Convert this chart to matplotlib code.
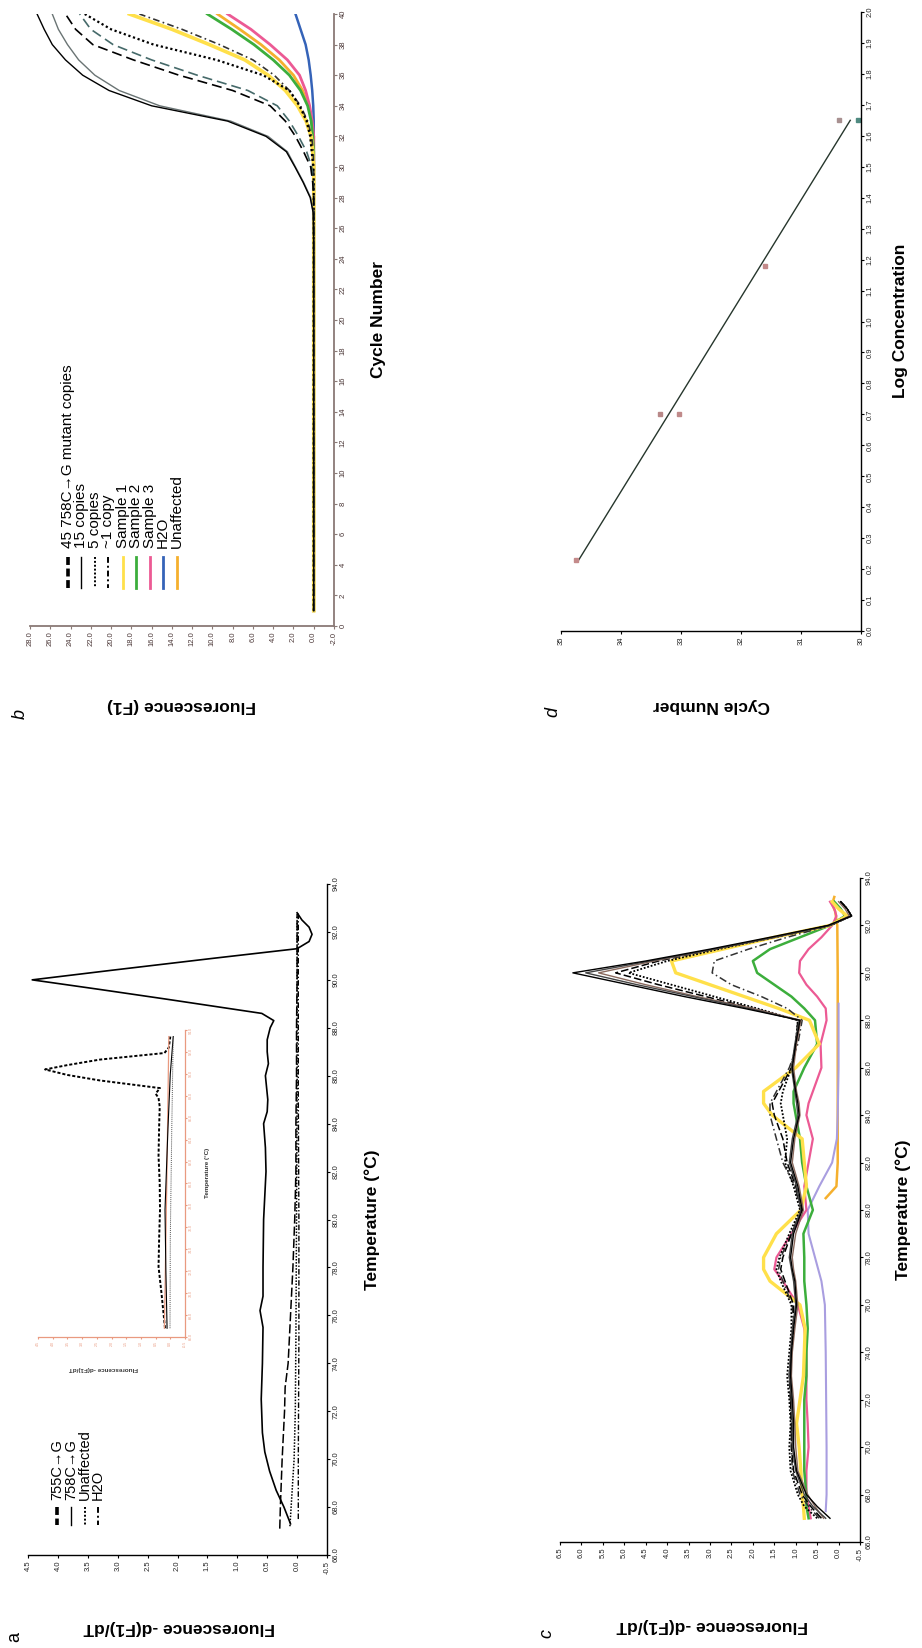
"""
Four-panel melting-curve / amplification figure, laid out rotated 90 degrees
(page in portrait, every text reading bottom-to-top).
"""

import numpy as np
import matplotlib
matplotlib.use("Agg")
import matplotlib.pyplot as plt
from matplotlib.lines import Line2D

plt.rcParams["font.family"] = ["Liberation Sans", "DejaVu Sans"]

# ── data: panel a (melting curves, -dF/dT vs temperature) ─────────────────────
a_t_758 = [67.3, 68.0, 68.7, 69.5, 70.3, 71.1, 72.5, 74.0, 75.5, 76.2,
           76.8, 78.0, 80.0, 82.0, 83.0, 84.0, 84.5, 85.0, 86.0, 86.5,
           87.0, 87.5, 88.0, 88.3, 88.6, 89.2, 89.6, 90.0, 90.4, 90.9,
           91.3, 91.6, 91.9, 92.2, 92.5, 92.8]
a_f_758 = [0.11, 0.22, 0.35, 0.46, 0.54, 0.58, 0.60, 0.58, 0.57, 0.62,
           0.57, 0.57, 0.56, 0.52, 0.53, 0.56, 0.50, 0.49, 0.53, 0.48,
           0.50, 0.50, 0.45, 0.39, 0.59, 2.20, 3.30, 4.43, 3.10, 1.40,
           0.00, -0.20, -0.25, -0.20, -0.08, 0.00]
a_t_755 = [67.1, 68, 70, 72, 73, 74, 76, 78, 80, 82, 84, 86, 88, 90, 92, 92.7]
a_f_755 = [0.29, 0.28, 0.25, 0.21, 0.20, 0.15, 0.11, 0.07, 0.04, 0.02,
           0.02, 0.01, 0.01, 0.00, 0.00, 0.00]
a_t_unaff = [67.2, 68, 70, 72, 75, 80, 85, 90, 92.8]
a_f_unaff = [0.12, 0.10, 0.05, 0.03, 0.02, 0.01, 0.00, 0.00, 0.00]
a_t_h2o = [67.5, 70, 75, 80, 85, 90, 92.8]
a_f_h2o = [-0.02, -0.02, -0.03, -0.03, -0.02, -0.02, -0.02]

# inset of panel a
in_t_755 = [66.8, 70.0, 72.4, 75.0, 77.6, 80.0, 82.5, 85.2, 87.0, 87.8,
            88.2, 88.7, 89.4, 89.9, 90.4, 90.8, 91.3, 91.6, 91.9, 92.4, 93.4]
in_f_755 = [0.18, 0.30, 0.40, 0.38, 0.35, 0.36, 0.40, 0.38, 0.36, 0.40,
            0.50, 0.35, 2.40, 3.50, 4.26, 3.50, 2.40, 1.30, 0.20, 0.05, 0.00]
in_t_758 = [66.8, 72, 77.6, 85, 90, 93.4]
in_f_758 = [0.11, 0.15, 0.18, 0.08, 0.00, -0.10]
in_t_red = [66.8, 80, 93.4]
in_f_red = [0.20, 0.12, 0.05]
in_t_unaff = [66.8, 75, 85, 93.4]
in_f_unaff = [0.01, 0.00, -0.05, -0.10]

# ── data: panel b (amplification, fluorescence vs cycle) ───────────────────────
b_cycles = [1, 5, 10, 15, 20, 25, 27, 28, 29, 30, 31, 32, 33, 34, 35, 36, 37, 38, 39, 40]
b_45a = [0, 0, 0, 0, 0, 0, 0.05, 0.35, 1.05, 1.85, 2.7, 4.7, 8.5, 16.0, 20.2, 22.8, 24.5, 25.8, 26.6, 27.3]
b_45b = [0, 0, 0, 0, 0, 0, 0.05, 0.30, 1.00, 1.80, 2.6, 4.5, 8.2, 15.2, 19.2, 21.6, 23.2, 24.3, 25.2, 25.8]
b_15a = [0, 0, 0, 0, 0, 0, 0, 0, 0.10, 0.30, 1.0, 1.8, 2.8, 4.3, 8.0, 13.3, 17.8, 21.8, 23.5, 24.5]
b_15b = [0, 0, 0, 0, 0, 0, 0, 0, 0.05, 0.20, 0.7, 1.5, 2.4, 3.6, 6.5, 11.5, 16.0, 19.8, 22.0, 23.1]
b_5 = [0, 0, 0, 0, 0, 0, 0, 0, 0, 0.05, 0.2, 0.35, 0.7, 1.4, 2.4, 5.0, 9.6, 15.8, 20.0, 22.6]
b_1 = [0, 0, 0, 0, 0, 0, 0, 0, 0, 0, 0.05, 0.2, 0.6, 1.3, 2.4, 3.9, 6.0, 9.3, 13.0, 17.2]
b_s1 = [0, 0, 0, 0, 0, 0, 0, 0, 0, 0, 0.1, 0.25, 0.75, 1.6, 2.8, 4.5, 6.8, 10.3, 14.0, 18.2]
b_s2 = [0, 0, 0, 0, 0, 0, 0, 0, 0, 0, 0, 0.1, 0.25, 0.6, 1.3, 2.4, 4.0, 5.9, 8.1, 10.5]
b_s3 = [0, 0, 0, 0, 0, 0, 0, 0, 0, 0, 0, 0, 0.15, 0.4, 0.8, 1.4, 2.6, 4.3, 6.2, 8.5]
b_h2o = [0, 0, 0, 0, 0, 0, 0, 0, 0, 0, 0, 0, 0, 0.05, 0.15, 0.3, 0.5, 0.8, 1.3, 1.8]
b_unaff = [0, 0, 0, 0, 0, 0, 0, 0, 0, 0, 0, 0, 0.2, 0.5, 1.1, 2.0, 3.4, 5.2, 7.3, 9.5]

# ── data: panel c (melting curves of standards and samples) ───────────────────
c_temp = [67.0, 67.5, 68.0, 69.0, 70.0, 71.0, 72.0, 73.0, 74.0, 75.0,
          76.0, 77.0, 77.5, 78.0, 79.0, 80.0, 81.0, 82.0, 83.0, 84.0,
          84.5, 85.0, 86.0, 87.0, 88.0, 88.5, 89.0, 89.5, 90.0, 90.5,
          91.0, 91.5, 92.0, 92.4, 92.7, 93.0]
c_k1 = [0.20, 0.50, 0.75, 0.98, 1.05, 1.05, 1.08, 1.12, 1.10, 1.05,
        0.98, 1.02, 1.08, 1.12, 1.05, 0.85, 0.95, 1.12, 1.05, 0.92,
        0.95, 1.00, 1.08, 1.00, 0.90, 2.20, 3.60, 4.90, 6.20, 4.50,
        3.00, 1.60, 0.25, -0.30, -0.20, -0.05]
c_k2 = [0.30, 0.60, 0.80, 1.00, 1.08, 1.08, 1.10, 1.15, 1.12, 1.08,
        1.00, 1.05, 1.10, 1.15, 1.08, 0.88, 0.98, 1.15, 1.08, 0.95,
        0.98, 1.02, 1.10, 1.02, 0.92, 2.10, 3.40, 4.70, 5.90, 4.40,
        2.90, 1.50, 0.20, -0.30, -0.20, -0.05]
c_k3 = [0.35, 0.55, 0.72, 0.95, 1.00, 1.02, 1.05, 1.10, 1.08, 1.02,
        0.95, 1.00, 1.05, 1.08, 1.00, 0.82, 0.92, 1.08, 1.02, 0.90,
        0.92, 0.98, 1.05, 0.98, 0.88, 2.00, 3.30, 4.50, 5.60, 4.30,
        2.90, 1.50, 0.20, -0.25, -0.15, 0.00]
c_k4 = [0.40, 0.65, 0.85, 1.05, 1.10, 1.10, 1.12, 1.15, 1.10, 1.05,
        1.05, 1.25, 1.35, 1.30, 1.10, 0.85, 1.00, 1.20, 1.30, 1.50,
        1.55, 1.40, 1.10, 1.00, 0.95, 2.00, 3.10, 4.20, 5.20, 4.20,
        2.90, 1.50, 0.20, -0.30, -0.20, -0.05]
c_k5 = [0.50, 0.80, 0.95, 1.12, 1.15, 1.12, 1.15, 1.20, 1.15, 1.10,
        1.10, 1.35, 1.45, 1.38, 1.15, 0.90, 1.05, 1.25, 1.20, 1.30,
        1.35, 1.30, 1.10, 1.00, 0.95, 1.90, 2.90, 3.90, 4.90, 4.00,
        2.80, 1.50, 0.20, -0.30, -0.20, -0.05]
c_k6 = [0.45, 0.70, 0.90, 1.08, 1.10, 1.10, 1.12, 1.15, 1.10, 1.05,
        1.08, 1.30, 1.40, 1.35, 1.10, 0.88, 1.02, 1.30, 1.45, 1.60,
        1.60, 1.45, 1.15, 0.95, 0.85, 1.20, 1.80, 2.50, 2.95, 2.90,
        2.10, 1.20, 0.20, -0.30, -0.20, -0.05]
c_s1 = [0.80, 0.82, 0.85, 0.88, 0.92, 0.98, 0.90, 0.82, 0.80, 0.78,
        0.90, 1.60, 1.75, 1.75, 1.45, 0.88, 0.75, 0.80, 0.85, 1.55,
        1.75, 1.75, 1.00, 0.45, 0.68, 1.40, 2.20, 3.00, 3.80, 3.90,
        2.70, 1.50, 0.20, -0.20, 0.00, 0.15]
c_s2 = [0.70, 0.75, 0.75, 0.80, 0.80, 0.80, 0.80, 0.75, 0.75, 0.72,
        0.75, 0.80, 0.80, 0.80, 0.82, 0.60, 0.75, 0.85, 0.90, 1.00,
        1.05, 1.05, 0.80, 0.50, 0.55, 0.80, 1.10, 1.50, 1.90, 2.00,
        1.60, 0.90, 0.20, -0.15, -0.05, 0.10]
c_s3 = [0.65, 0.70, 0.75, 0.75, 0.70, 0.72, 0.75, 0.75, 0.75, 0.80,
        0.95, 1.30, 1.50, 1.45, 1.10, 0.75, 0.80, 0.70, 0.60, 0.75,
        0.70, 0.60, 0.40, 0.42, 0.28, 0.30, 0.50, 0.75, 0.92, 0.90,
        0.70, 0.40, 0.15, 0.05, 0.10, 0.20]
c_t_h2o = [67.3, 68, 70, 72, 74, 76, 77, 78, 79, 80, 81, 82, 83, 84, 86, 88, 88.7]
c_f_h2o = [0.30, 0.28, 0.28, 0.29, 0.30, 0.32, 0.40, 0.55, 0.70, 0.72,
           0.45, 0.15, 0.04, 0.02, 0.00, 0.00, 0.00]
c_t_unaff = [80.5, 81, 82, 84, 86, 88, 90, 92, 92.6, 92.9, 93.2]
c_f_unaff = [0.30, 0.05, 0.02, 0.02, 0.02, 0.02, 0.02, 0.03, 0.08, 0.15, 0.10]

# ── data: panel d (standard curve) ────────────────────────────────────────────
d_logconc = [0.23, 0.70, 0.70, 1.18, 1.65, 1.65]
d_cycle = [34.75, 33.35, 33.03, 31.60, 30.37, 30.05]

# ── tick values ───────────────────────────────────────────────────────────────
temp_ticks = np.arange(66, 94.1, 2)
a_fl_ticks = np.arange(-0.5, 4.51, 0.5)
c_fl_ticks = np.arange(-0.5, 6.51, 0.5)
b_fl_ticks = np.arange(-2, 28.1, 2)
b_cyc_ticks = np.arange(0, 41, 2)
d_log_ticks = np.arange(0, 2.01, 0.1)
d_cyc_ticks = np.arange(30, 35.1, 1)

# ── style ─────────────────────────────────────────────────────────────────────
C_YEL = "#ffe04a"
C_GRN = "#3cae3c"
C_PNK = "#ec5a94"
C_BLU = "#3563b8"
C_ORG = "#f5b02e"
C_LAV = "#a99ee0"
C_INSET = "#e99a80"

W, H = 922, 1648
fig = plt.figure(figsize=(W / 100, H / 100), dpi=100)
fig.patch.set_facecolor("white")


def rect(left, top, right, bottom):
    return [left / W, 1 - bottom / H, (right - left) / W, (bottom - top) / H]


def panel(box, vlim, tlim, vticks, tticks, vfmt, tfmt,
          color="black", lw=1.0, fs=5.5, tcolor="#222222", tick_len=2.5):
    # horizontal = measured value (decreasing to the right), vertical = x of original
    ax = fig.add_axes(rect(*box))
    ax.set_xlim(*vlim)
    ax.set_ylim(*tlim)
    ax.patch.set_alpha(0)
    for s in ("top", "left"):
        ax.spines[s].set_visible(False)
    for s in ("bottom", "right"):
        ax.spines[s].set_color(color)
        ax.spines[s].set_linewidth(lw)
    ax.yaxis.tick_right()
    ax.set_xticks(vticks)
    ax.set_xticklabels([vfmt.format(v) for v in vticks], rotation=90)
    ax.set_yticks(tticks)
    ax.set_yticklabels([tfmt.format(v) for v in tticks], rotation=90, va="center")
    ax.tick_params(direction="out", length=tick_len, width=0.8, color=color,
                   labelsize=fs, labelcolor=tcolor, pad=1.5)
    return ax


def label(x, y, s, rot, size=12.5, weight="bold", style="normal", color="black"):
    fig.text(x / W, 1 - y / H, s, rotation=rot, ha="center", va="center",
             fontsize=size, fontweight=weight, fontstyle=style, color=color)


def legend(xs, y0, y1, ty, labels, styles, fs=10):
    for x, lab, kw in zip(xs, labels, styles):
        fig.add_artist(Line2D([x / W, x / W], [1 - y0 / H, 1 - y1 / H],
                              transform=fig.transFigure, **kw))
        fig.text(x / W, 1 - ty / H, lab, rotation=90, ha="center", va="bottom",
                 fontsize=fs)


DASH_THICK = dict(color="black", lw=2.6, ls=(0, (2.2, 1.0)))
SOLID = dict(color="black", lw=1.0, ls="-")
DOTTED = dict(color="black", lw=1.4, ls=(0, (1, 1)))
DASHDOT = dict(color="black", lw=1.4, ls=(0, (3, 1.5, 1, 1.5)))

# ── panel a ──────────────────────────────────────────────────────────────────
ax_a = panel((28, 884, 327, 1555), (4.5, -0.5), (66, 94),
             a_fl_ticks, temp_ticks, "{:.1f}", "{:.1f}")
ax_a.plot(a_f_758, a_t_758, color="black", lw=1.2)
ax_a.plot(a_f_755, a_t_755, color="black", lw=1.1, ls=(0, (6, 2)))
ax_a.plot(a_f_unaff, a_t_unaff, color="black", lw=1.1, ls=(0, (1, 1)))
ax_a.plot(a_f_h2o, a_t_h2o, color="black", lw=1.0, ls=(0, (4, 1.5, 1, 1.5)))

label(372, 1220, "Temperature (°C)", 90)
label(179, 1627, "Fluorescence -d(F1)/dT", 180)
label(15, 1637, "a", 90, size=13, weight="normal")

legend([57, 71, 85, 98], 1507, 1525, 1500,
       ["755C→G", "758C→G", "Unaffected", "H2O"],
       [DASH_THICK, SOLID, DOTTED, DASHDOT], fs=10.5)

# inset
ax_in = panel((38, 1030, 185, 1337), (4.5, -0.5), (66, 94),
              a_fl_ticks, temp_ticks, "{:.1f}", "{:.1f}",
              color=C_INSET, lw=0.9, fs=2.6, tcolor=C_INSET, tick_len=1.5)
ax_in.plot(in_f_755, in_t_755, color="black", lw=1.4, ls=(0, (1.6, 1.0)))
ax_in.plot(in_f_red, in_t_red, color=C_INSET, lw=0.9)
ax_in.plot(in_f_758, in_t_758, color="black", lw=0.8)
ax_in.plot(in_f_unaff, in_t_unaff, color="#555555", lw=0.7, ls=(0, (1, 1)))
label(103, 1368, "Fluorescence -d(F1)/dT", 180, size=4.5, color="#333333")
label(207, 1173, "Temperature (°C)", 90, size=4.5, color="#333333")

# ── panel b ──────────────────────────────────────────────────────────────────
ax_b = panel((30, 14, 334, 626), (28, -2), (0, 40),
             b_fl_ticks, b_cyc_ticks, "{:.1f}", "{:.0f}",
             color="#8a7a76", lw=1.3, tcolor="#4a3636")
ax_b.plot(b_unaff, b_cycles, color=C_ORG, lw=2.0)
ax_b.plot(b_h2o, b_cycles, color=C_BLU, lw=1.8)
ax_b.plot(b_s3, b_cycles, color=C_PNK, lw=2.0)
ax_b.plot(b_s2, b_cycles, color=C_GRN, lw=2.0)
ax_b.plot(b_s1, b_cycles, color=C_YEL, lw=2.6)
ax_b.plot(b_1, b_cycles, color="#333333", lw=1.2, ls=(0, (4, 2, 1, 2)))
ax_b.plot(b_5, b_cycles, color="black", lw=1.6, ls=(0, (1, 1.2)))
ax_b.plot(b_15b, b_cycles, color="#466a6a", lw=1.2, ls=(0, (6, 3)))
ax_b.plot(b_15a, b_cycles, color="black", lw=1.2, ls=(0, (6, 3)))
ax_b.plot(b_45b, b_cycles, color="#6a7474", lw=1.0)
ax_b.plot(b_45a, b_cycles, color="black", lw=1.0)

label(378, 320, "Cycle Number", 90)
label(182, 706, "Fluorescence (F1)", 180)
label(20, 714, "b", 90, size=13, weight="normal", style="italic")

legend([68, 81, 95, 108, 123, 136, 150, 163, 177], 557, 588, 548,
       ["45 758C→G mutant copies", "15 copies", "5 copies", "~1 copy",
        "Sample 1", "Sample 2", "Sample 3", "H2O", "Unaffected"],
       [DASH_THICK, SOLID, DOTTED, DASHDOT,
        dict(color=C_YEL, lw=2.0), dict(color=C_GRN, lw=2.0),
        dict(color=C_PNK, lw=2.0), dict(color=C_BLU, lw=2.0),
        dict(color=C_ORG, lw=2.0)], fs=11)

# ── panel c ──────────────────────────────────────────────────────────────────
ax_c = panel((560, 878, 860, 1542), (6.5, -0.5), (66, 94),
             c_fl_ticks, temp_ticks, "{:.1f}", "{:.1f}")
ax_c.plot(c_f_unaff, c_t_unaff, color=C_ORG, lw=1.8)
ax_c.plot(c_f_h2o, c_t_h2o, color=C_LAV, lw=1.5)
ax_c.plot(c_s3, c_temp, color=C_PNK, lw=1.6)
ax_c.plot(c_s2, c_temp, color=C_GRN, lw=1.8)
ax_c.plot(c_s1, c_temp, color=C_YEL, lw=2.4)
ax_c.plot(c_k6, c_temp, color="#333333", lw=1.1, ls=(0, (5, 2, 1, 2)))
ax_c.plot(c_k5, c_temp, color="black", lw=1.3, ls=(0, (1, 1)))
ax_c.plot(c_k4, c_temp, color="black", lw=1.1, ls=(0, (5, 2)))
ax_c.plot(c_k3, c_temp, color="#8a6a5e", lw=1.0)
ax_c.plot(c_k2, c_temp, color="#444444", lw=1.0)
ax_c.plot(c_k1, c_temp, color="black", lw=1.0)

label(903, 1210, "Temperature (°C)", 90)
label(712, 1625, "Fluorescence -d(F1)/dT", 180)
label(547, 1633, "c", 90, size=13, weight="normal", style="italic")

# ── panel d ──────────────────────────────────────────────────────────────────
ax_d = panel((561, 12, 861, 631), (35, 30), (0, 2.0),
             d_cyc_ticks, d_log_ticks, "{:.0f}", "{:.1f}")
slope, icpt = np.polyfit(d_logconc, d_cycle, 1)
fit_x = np.array([min(d_logconc), max(d_logconc)])
ax_d.plot(slope * fit_x + icpt, fit_x, color="#26362c", lw=1.0)
marker_cols = ["#c48a8a", "#b88888", "#c08a8a", "#c48a8a", "#a89090", "#4f8a80"]
for cy, lc, mc in zip(d_cycle, d_logconc, marker_cols):
    ax_d.plot(cy, lc, ls="none", marker="s", ms=3.2, color=mc, mec=mc)

label(900, 321, "Log Concentration", 90)
label(711, 705, "Cycle Number", 180)
label(553, 712, "d", 90, size=13, weight="normal", style="italic")

fig.savefig("out.png", dpi=100, facecolor="white")
